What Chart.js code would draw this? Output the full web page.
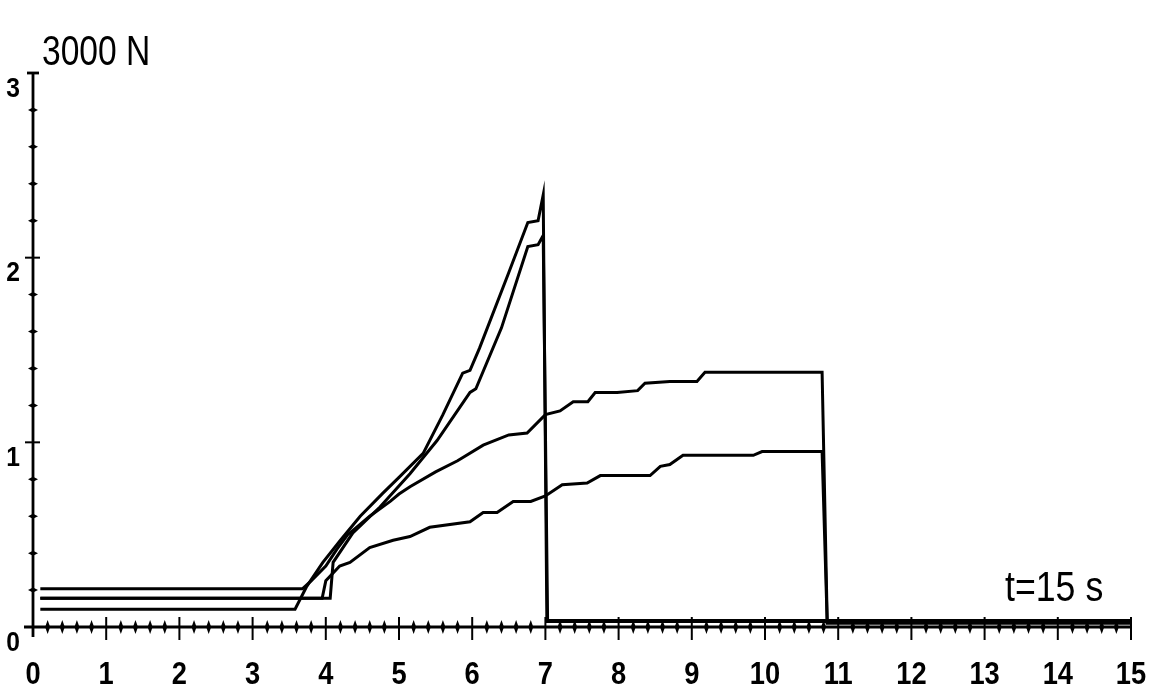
<!DOCTYPE html>
<html>
<head>
<meta charset="utf-8">
<script src="https://cdn.jsdelivr.net/npm/chart.js@4.4.1/dist/chart.umd.min.js"></script>
<style>
  html, body { margin: 0; padding: 0; background: #fff; }
  #wrap { width: 1152px; height: 696px; position: relative; }
</style>
</head>
<body>
<div id="wrap"><canvas id="chart-force"></canvas></div>
<script>
// Force (x 3000 N) against time (s), four recorded curves
const xTicks = [0, 1, 2, 3, 4, 5, 6, 7, 8, 9, 10, 11, 12, 13, 14, 15];
const yTicks = [0, 1, 2, 3];

// curve 1 - steepest, peaks ~2.34 at 7 s
const timeA = [0.1, 3.58, 3.74, 3.96, 4.2, 4.47, 4.78, 5.0, 5.33, 5.6, 5.87, 5.97, 6.1, 6.5, 6.76, 6.9, 6.97, 7.02, 15];
const forceA = [0.096, 0.096, 0.22, 0.35, 0.47, 0.6, 0.725, 0.81, 0.94, 1.15, 1.375, 1.39, 1.51, 1.92, 2.19, 2.2, 2.34, 0.03, 0.03];

// curve 2 - peaks ~2.12 at 7 s
const timeB = [0.1, 4.06, 4.1, 4.37, 4.74, 5.15, 5.52, 5.97, 6.05, 6.4, 6.76, 6.9, 6.97, 7.03, 15];
const forceB = [0.156, 0.156, 0.35, 0.51, 0.65, 0.83, 1.01, 1.27, 1.29, 1.62, 2.06, 2.07, 2.12, 0.035, 0.035];

// curve 3 - levels off ~1.38, released at 10.8 s
const timeC = [0.1, 3.68, 3.8, 4.0, 4.15, 4.3, 4.6, 4.88, 5.0, 5.15, 5.5, 5.8, 6.15, 6.5, 6.75, 7.0, 7.2, 7.38, 7.58, 7.68, 7.98, 8.26, 8.36, 8.7, 9.07, 9.18, 10.78, 10.85, 15];
const forceC = [0.207, 0.207, 0.25, 0.33, 0.42, 0.5, 0.6, 0.68, 0.72, 0.76, 0.84, 0.9, 0.985, 1.04, 1.05, 1.15, 1.17, 1.22, 1.22, 1.27, 1.27, 1.28, 1.32, 1.33, 1.33, 1.38, 1.38, 0.025, 0.025];

// curve 4 - levels off ~0.95, released at 10.8 s
const timeD = [0.1, 3.95, 4.0, 4.19, 4.33, 4.6, 4.92, 5.15, 5.42, 5.97, 6.15, 6.34, 6.56, 6.8, 7.0, 7.23, 7.57, 7.75, 8.43, 8.57, 8.7, 8.88, 9.84, 9.96, 10.78, 10.85, 15];
const forceD = [0.156, 0.156, 0.25, 0.33, 0.35, 0.43, 0.47, 0.49, 0.54, 0.57, 0.62, 0.62, 0.68, 0.68, 0.71, 0.77, 0.78, 0.82, 0.82, 0.87, 0.88, 0.93, 0.93, 0.95, 0.95, 0.02, 0.02];

const FONT = "'Liberation Sans', Arial, sans-serif";

function toPoints(ts, vs) {
    return ts.map((t, i) => ({ x: t, y: vs[i] }));
}

function line(ctx, x1, y1, x2, y2) {
    ctx.beginPath();
    ctx.moveTo(x1, y1);
    ctx.lineTo(x2, y2);
    ctx.stroke();
}

// narrow text: squeeze the font horizontally around (px, py)
function narrowText(ctx, text, px, py, squeeze) {
    ctx.save();
    ctx.translate(px, py);
    ctx.scale(squeeze, 1);
    ctx.fillText(text, 0, 0);
    ctx.restore();
}

// hand-drawn looking axes: major ticks crossing the axis, small diamonds for minor ticks
const axesPlugin = {
    id: 'oldAxes',
    beforeDatasetsDraw(chart) {
        const { ctx, scales: { x, y } } = chart;
        const x0 = x.getPixelForValue(0);
        const y0 = y.getPixelForValue(0);
        const xEnd = x.getPixelForValue(15);
        const yTop = y.getPixelForValue(3);
        ctx.save();
        ctx.strokeStyle = '#000';
        ctx.fillStyle = '#000';
        ctx.lineWidth = 2.8;
        line(ctx, x0 - 9, y0, xEnd, y0);
        line(ctx, x0, yTop, x0, y0 + 10);
        line(ctx, x0 - 6, yTop, x0 + 6, yTop);

        ctx.lineWidth = 2;
        for (let i = 1; i <= 75; i++) {
            const px = x.getPixelForValue(i * 0.2);
            if (i % 5 === 0) {
                line(ctx, px, y0 - 10, px, y0 + 13);
            } else {
                ctx.beginPath();
                ctx.moveTo(px, y0 - 7);
                ctx.lineTo(px + 2.5, y0);
                ctx.lineTo(px, y0 + 7);
                ctx.lineTo(px - 2.5, y0);
                ctx.closePath();
                ctx.fill();
            }
        }
        for (let i = 1; i < 15; i++) {
            const py = y.getPixelForValue(i * 0.2);
            if (i % 5 === 0) {
                line(ctx, x0 - 8, py, x0 + 7, py);
            } else {
                ctx.beginPath();
                ctx.moveTo(x0 - 5, py);
                ctx.lineTo(x0, py - 2.5);
                ctx.lineTo(x0 + 5, py);
                ctx.lineTo(x0, py + 2.5);
                ctx.closePath();
                ctx.fill();
            }
        }

        ctx.font = 'bold 31px ' + FONT;
        ctx.textAlign = 'center';
        ctx.textBaseline = 'middle';
        xTicks.forEach(v => {
            narrowText(ctx, String(v), x.getPixelForValue(v), y0 + 48, 0.88);
        });
        ctx.font = 'bold 28px ' + FONT;
        yTicks.forEach(v => {
            narrowText(ctx, String(v), x0 - 20, y.getPixelForValue(v) + 16, 0.88);
        });

        ctx.font = '42px ' + FONT;
        ctx.textAlign = 'left';
        ctx.textBaseline = 'alphabetic';
        narrowText(ctx, '3000 N', x0 + 9, yTop - 8, 0.8);
        narrowText(ctx, 't=15 s', xEnd - 126, y0 - 26, 0.85);
        ctx.restore();
    }
};

function curve(ts, vs) {
    return {
        data: toPoints(ts, vs),
        borderColor: '#000',
        borderWidth: 3,
        pointRadius: 0,
        tension: 0,
        fill: false
    };
}

new Chart(document.getElementById('chart-force'), {
    type: 'line',
    data: {
        datasets: [
            curve(timeA, forceA),
            curve(timeB, forceB),
            curve(timeC, forceC),
            curve(timeD, forceD)
        ]
    },
    options: {
        responsive: true,
        maintainAspectRatio: false,
        animation: false,
        layout: { padding: { left: 33, right: 21, top: 73, bottom: 69 } },
        plugins: {
            legend: { display: false },
            tooltip: { enabled: false }
        },
        scales: {
            x: { type: 'linear', min: 0, max: 15, display: false },
            y: { type: 'linear', min: 0, max: 3, display: false }
        }
    },
    plugins: [axesPlugin]
});
</script>
</body>
</html>
